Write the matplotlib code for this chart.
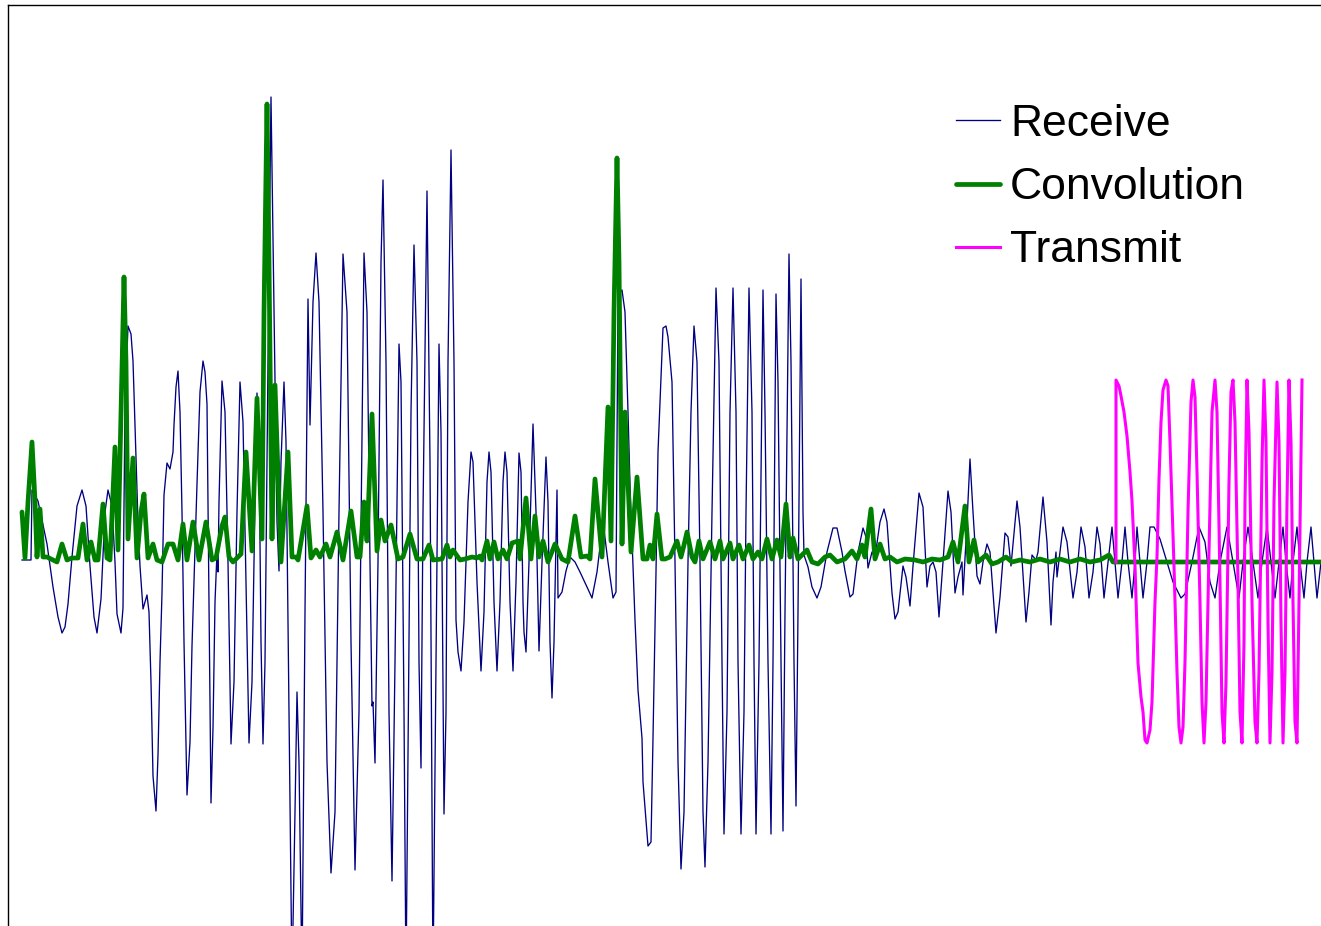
import matplotlib
matplotlib.use("Agg")
import matplotlib.pyplot as plt
import numpy as np

plt.rcParams['font.family'] = ['Liberation Sans', 'DejaVu Sans']

# ---- data (time index, amplitude) ----
receive_samples = [
    (22, 2), (31, 2), (32, 72), (38, 61), (47, 18), (53, -25), (58, -55), (62, -71), (65, -65), (68, -42),
    (72, 5), (77, 56), (82, 72), (86, 56), (90, -4), (94, -55), (97, -71), (101, -37), (105, 50), (108, 72),
    (112, 56), (115, 0), (117, -52), (121, -71), (123, -46), (125, 158), (128, 236), (131, 228), (133, 201),
    (135, 137), (138, 40), (140, -4), (143, -47), (147, -33), (149, -50), (151, -120), (153, -214), (156, -249),
    (158, -193), (160, -100), (162, -31), (164, 67), (167, 99), (170, 93), (173, 110), (174, 137), (176, 175),
    (178, 191), (180, 150), (182, 50), (184, -80), (187, -233), (190, -180), (192, -84), (197, 78), (200, 170),
    (203, 201), (205, 190), (207, 158), (209, -40), (211, -241), (213, -166), (215, -40), (217, 10), (218, -10),
    (219, 60), (222, 181), (225, 150), (228, 0), (231, -182), (234, -120), (237, 50), (240, 180), (243, 140),
    (246, -20), (249, -181), (252, -120), (255, 60), (257, 169), (259, 120), (261, -80), (263, -182), (265, -100),
    (268, 200), (271, 465), (274, 250), (277, 40), (279, -9), (281, 100), (284, 180), (286, 120), (289, -150),
    (292, -420), (295, -250), (297, -130), (299, -200), (302, -420), (305, -50), (308, 263), (310, 137),
    (313, 260), (316, 309), (319, 260), (323, 50), (327, -200), (331, -311), (335, -250), (339, 50), (343, 308),
    (347, 250), (351, -80), (355, -308), (359, -150), (364, 309), (367, 250), (370, 0), (372, -144), (373, -140),
    (375, -201), (378, 0), (381, 300), (383, 382), (386, 200), (389, -150), (392, -319), (395, -100), (399, 218),
    (401, 180), (404, -150), (406, -420), (409, -80), (411, 150), (414, 317), (417, 200), (419, -100),
    (421, -206), (423, 50), (427, 371), (430, 100), (433, -420), (436, -100), (439, 218), (441, 130),
    (444, -252), (446, -150), (448, 200), (451, 412), (454, 200), (456, -58), (458, -90), (461, -109),
    (464, -60), (468, 60), (471, 110), (473, 100), (477, -20), (481, -109), (484, -50), (487, 80), (489, 110),
    (491, 90), (494, -40), (497, -109), (500, -40), (503, 80), (505, 110), (507, 90), (510, -40), (513, -109),
    (516, -20), (519, 109), (521, 90), (523, -40), (524, -70), (526, -90), (529, 0), (533, 138), (536, 50),
    (539, -89), (542, 0), (546, 105), (548, 60), (550, -80), (552, -136), (554, -80), (557, 72), (558, -36),
    (562, -30), (566, -9), (570, 5), (575, 0), (580, -10), (587, -25), (592, -36), (597, -10), (603, 40),
    (608, 0), (613, -36), (616, -30), (618, 266), (622, 272), (625, 250), (628, 150), (630, 77), (635, -58),
    (638, -128), (642, -176), (643, -220), (648, -284), (651, -280), (653, -176), (656, -10), (658, 110),
    (663, 234), (666, 236), (668, 225), (672, 180), (675, 0), (678, -200), (681, -307), (684, -250), (688, 0),
    (691, 150), (694, 236), (697, 200), (700, 0), (703, -250), (705, -305), (708, -200), (712, 50), (716, 274),
    (719, 200), (722, -100), (724, -272), (727, -150), (730, 150), (733, 274), (736, 150), (738, -100),
    (741, -272), (744, -150), (746, 50), (749, 274), (752, 150), (754, -100), (756, -272), (759, -100),
    (763, 272), (765, 150), (768, -100), (771, -272), (773, -100), (776, 268), (778, 180), (781, -100),
    (783, -269), (785, -50), (789, 308), (791, 200), (794, -100), (796, -244), (798, -50), (801, 283),
    (803, 50), (804, 7), (808, -5), (812, -25), (817, -36), (821, -25), (827, 10), (833, 34), (837, 34),
    (842, 10), (845, -9), (850, -35), (853, -32), (858, 10), (863, 34), (866, 25), (868, -6), (872, 10),
    (875, 5), (880, 40), (884, 53), (887, 40), (892, -31), (895, -57), (898, -50), (903, -4), (906, -15),
    (910, -44), (913, -4), (919, 69), (923, 55), (927, -25), (930, -4), (933, 0), (936, -10), (939, -55),
    (943, 0), (948, 71), (951, 50), (955, -31), (958, -15), (962, 0), (963, -33), (967, 40), (970, 103),
    (973, 50), (977, -14), (980, -22), (983, 0), (987, 18), (990, 10), (996, -71), (1000, -35), (1005, 29),
    (1008, 25), (1011, -4), (1017, 61), (1020, 35), (1026, -60), (1029, -30), (1032, 7), (1036, 2), (1038, 10),
    (1043, 65), (1047, 20), (1051, -63), (1053, -20), (1056, 10), (1057, -15), (1063, 35), (1067, 20),
    (1073, -36), (1077, -10), (1081, 35), (1085, 15), (1089, -36), (1093, -10), (1097, 35), (1100, 18),
    (1104, -36), (1108, 0), (1112, 35), (1115, 0), (1118, -36), (1122, 0), (1125, 35), (1128, 0), (1132, -36),
    (1135, 0), (1137, 35), (1140, 0), (1143, -36), (1147, 0), (1150, 35), (1154, 35), (1160, 23), (1167, 0),
    (1173, -20), (1181, -36), (1185, -32), (1192, 0), (1199, 35), (1205, 20), (1210, -20), (1215, -36),
    (1220, 0), (1227, 35), (1233, 0), (1239, -36), (1243, 0), (1248, 35), (1253, 0), (1258, -36), (1262, 0),
    (1267, 35), (1271, 0), (1275, -36), (1279, 0), (1283, 35), (1286, 0), (1290, -36), (1293, 0), (1297, 35),
    (1300, 0), (1304, -36), (1307, 0), (1311, 35), (1314, 0), (1317, -36), (1321, 0),
]

convolution_samples = [
    (22, 50), (25, 4), (28, 60), (32, 120), (35, 61), (37, 5), (40, 53), (43, 5), (47, 5), (53, 2), (57, 0),
    (62, 18), (67, 2), (72, 4), (78, 4), (83, 38), (87, 2), (91, 20), (95, 2), (98, 2), (103, 58), (107, 4),
    (110, 2), (115, 115), (118, 12), (121, 150), (124, 285), (126, 200), (128, 23), (133, 104), (137, 4),
    (141, 50), (144, 68), (148, 4), (153, 18), (157, 2), (162, 0), (168, 18), (173, 18), (178, 2), (183, 38),
    (187, 2), (193, 40), (199, 2), (206, 40), (212, 2), (216, 4), (222, 36), (225, 45), (229, 5), (233, 0),
    (238, 5), (241, 8), (246, 110), (252, 11), (257, 164), (262, 23), (264, 250), (267, 458), (269, 300),
    (272, 23), (275, 177), (281, 0), (288, 110), (292, 5), (296, 5), (298, 2), (307, 56), (311, 4), (316, 12),
    (320, 5), (326, 18), (330, 5), (337, 30), (343, 2), (351, 51), (357, 5), (360, 5), (364, 60), (367, 21),
    (372, 148), (377, 11), (381, 42), (385, 21), (391, 37), (398, 3), (403, 5), (410, 28), (417, 3), (423, 3),
    (429, 17), (433, 2), (442, 3), (447, 17), (450, 5), (453, 12), (460, 2), (465, 3), (472, 5), (477, 4),
    (480, 6), (482, 2), (487, 21), (490, 3), (494, 20), (498, 3), (503, 12), (507, 3), (512, 19), (518, 21),
    (520, 3), (526, 64), (531, 3), (535, 46), (539, 5), (543, 21), (548, 0), (555, 18), (562, 3), (568, 0),
    (575, 46), (581, 5), (587, 6), (590, 3), (595, 83), (602, 5), (608, 155), (611, 21), (614, 250), (617, 404),
    (619, 300), (622, 18), (625, 150), (631, 10), (637, 85), (643, 3), (647, 3), (650, 17), (653, 3), (657, 48),
    (662, 3), (665, 3), (670, 5), (677, 21), (681, 5), (684, 17), (687, 30), (692, 5), (695, 0), (699, 21),
    (703, 3), (710, 20), (715, 3), (720, 21), (723, 3), (730, 19), (733, 3), (739, 17), (743, 3), (749, 17),
    (753, 3), (758, 10), (762, 3), (767, 23), (772, 3), (777, 22), (781, 5), (786, 58), (790, 5), (793, 24),
    (798, 3), (807, 12), (812, 0), (818, -2), (825, 5), (830, 7), (837, 0), (845, 3), (852, 11), (857, 3),
    (862, 17), (865, 5), (871, 53), (875, 3), (880, 18), (885, 3), (890, 5), (897, 0), (905, 3), (915, 2),
    (923, 0), (932, 3), (940, 2), (948, 5), (953, 20), (958, 0), (965, 56), (969, 0), (974, 22), (978, 0),
    (986, 7), (992, -2), (998, 0), (1006, 5), (1012, 0), (1020, 2), (1030, 0), (1040, 3), (1050, 0), (1060, 3),
    (1070, 0), (1080, 3), (1090, 0), (1100, 2), (1109, 7), (1113, 0), (1321, 0),
]

transmit_samples = [
    (1116, 0), (1116, 182), (1119, 176), (1121, 166), (1124, 150), (1127, 126), (1130, 90), (1132, 61),
    (1135, -4), (1138, -101), (1141, -135), (1143, -150), (1145, -178), (1147, -181), (1150, -168),
    (1152, -140), (1155, -40), (1157, 5), (1159, 83), (1161, 140), (1163, 172), (1166, 182), (1168, 176),
    (1170, 120), (1174, -4), (1177, -110), (1179, -165), (1181, -181), (1183, -165), (1185, -100), (1188, 50),
    (1191, 160), (1193, 182), (1195, 165), (1197, 90), (1200, -40), (1202, -140), (1204, -181), (1206, -140),
    (1209, 10), (1212, 150), (1215, 182), (1217, 150), (1220, -20), (1222, -150), (1224, -181), (1226, -120),
    (1229, 80), (1231, 170), (1233, 182), (1235, 140), (1238, -20), (1240, -150), (1242, -181), (1244, -80),
    (1245, 60), (1247, 182), (1249, 130), (1252, -40), (1255, -160), (1257, -181), (1259, -110), (1262, 100),
    (1264, 182), (1266, 120), (1268, -60), (1270, -181), (1272, -110), (1274, 60), (1277, 180), (1279, 120),
    (1281, -60), (1283, -181), (1285, -110), (1287, 60), (1289, 182), (1291, 120), (1293, -40), (1295, -160),
    (1297, -181), (1299, -40), (1302, 182),
]

series_labels = ["Receive", "Convolution", "Transmit"]

rx_t, rx_v = np.array(receive_samples, dtype=float).T
cv_t, cv_v = np.array(convolution_samples, dtype=float).T
tx_t, tx_v = np.array(transmit_samples, dtype=float).T

# ---- figure ----
fig = plt.figure(figsize=(13.21, 9.26), dpi=100)
ax = fig.add_axes([8 / 1321, 0, 1.0, 921 / 926])

ax.plot(rx_t, rx_v, color='#000080', lw=0.95, label=series_labels[0], zorder=2)
ax.plot(cv_t, cv_v, color='#008000', lw=3.4, label=series_labels[1], zorder=3,
        solid_joinstyle='round', solid_capstyle='round')
ax.plot(tx_t, tx_v, color='#FF00FF', lw=2.2, label=series_labels[2], zorder=4,
        solid_joinstyle='round')

ax.set_xlim(8, 1329)
ax.set_ylim(-364, 557)
ax.set_xticks([])
ax.set_yticks([])
for side in ('right', 'bottom'):
    ax.spines[side].set_visible(False)
for side in ('left', 'top'):
    ax.spines[side].set_linewidth(1.0)
    ax.spines[side].set_color('black')

leg = ax.legend(loc='upper left', bbox_to_anchor=(956 / 1321, 1 - 104 / 926),
                bbox_transform=fig.transFigure, frameon=False, fontsize=32,
                handlelength=1.0, handletextpad=0.22, labelspacing=0.5,
                borderpad=0, borderaxespad=0)

fig.savefig("out.png", dpi=100)
